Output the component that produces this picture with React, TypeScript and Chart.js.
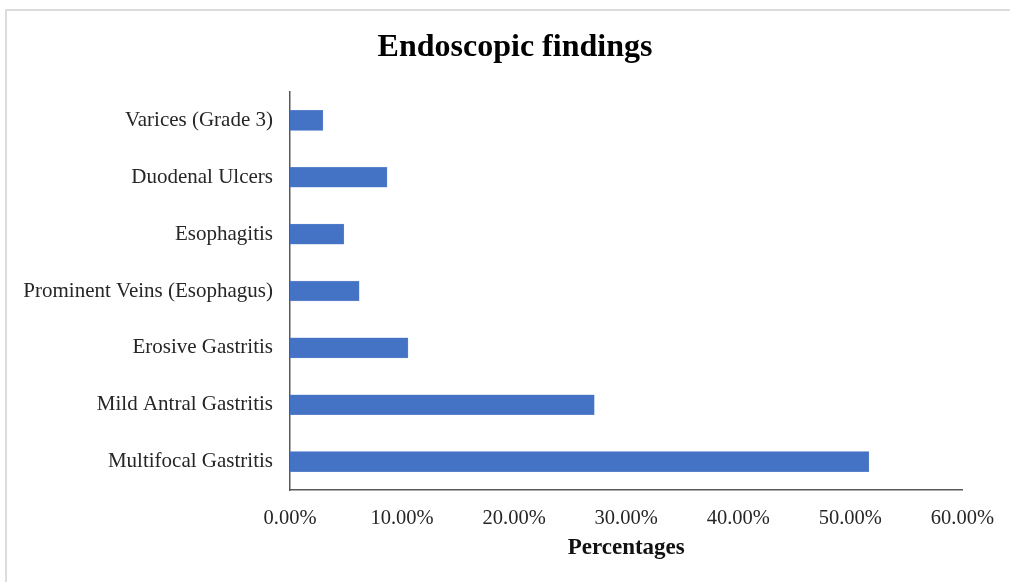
import React, { useEffect, useRef } from "react";
import { Chart, registerables } from "chart.js";

Chart.register(...registerables);

const chartTitle = "Endoscopic findings";
const xAxisTitle = "Percentages";
const categories = [
  "Varices (Grade 3)",
  "Duodenal Ulcers",
  "Esophagitis",
  "Prominent Veins (Esophagus)",
  "Erosive Gastritis",
  "Mild Antral Gastritis",
  "Multifocal Gastritis",
];
const percentages = [2.94, 8.66, 4.81, 6.17, 10.53, 27.15, 51.66];
const xMin = 0;
const xMax = 60;
const xStep = 10;

const FONT = '"Liberation Serif", "Times New Roman", serif';

const titlePlugin = {
  id: "customTitle",
  afterDraw(chart: any) {
    const ctx = chart.ctx;
    ctx.save();
    ctx.font = `bold 32px ${FONT}`;
    ctx.fillStyle = "#000000";
    ctx.textAlign = "center";
    ctx.textBaseline = "alphabetic";
    ctx.fillText(chartTitle, 515, 56);
    ctx.restore();
  },
};

export default function App() {
  const canvasRef = useRef<HTMLCanvasElement | null>(null);

  useEffect(() => {
    if (!canvasRef.current) return;
    const chart = new Chart(canvasRef.current, {
      type: "bar",
      data: {
        labels: categories,
        datasets: [
          {
            label: xAxisTitle,
            data: percentages,
            backgroundColor: "#4472C4",
            borderColor: "#6f93d3",
            borderWidth: 0.5,
            barThickness: 20,
          },
        ],
      },
      plugins: [titlePlugin],
      options: {
        indexAxis: "y",
        responsive: false,
        animation: false,
        devicePixelRatio: 1,
        layout: { padding: { top: 92, left: 10, right: 46, bottom: 0 } },
        plugins: {
          legend: { display: false },
          title: { display: false },
          tooltip: { enabled: false },
        },
        scales: {
          x: {
            min: xMin,
            max: xMax,
            grid: { display: false, drawTicks: false },
            border: { display: true, color: "#595959", width: 1.5 },
            ticks: {
              stepSize: xStep,
              padding: 16,
              color: "#262626",
              font: { family: FONT, size: 20.5 },
              callback: (v: any) => `${Number(v).toFixed(2)}%`,
            },
            title: {
              display: true,
              text: xAxisTitle,
              color: "#111111",
              font: { family: FONT, size: 23, weight: "bold" },
              padding: { top: 0, bottom: 20 },
            },
            afterFit: (scale: any) => {
              scale.height = 92;
            },
          },
          y: {
            grid: { display: false, drawTicks: false },
            border: { display: true, color: "#595959", width: 1.5 },
            ticks: {
              padding: 17,
              color: "#262626",
              font: { family: FONT, size: 21 },
            },
            afterFit: (scale: any) => {
              scale.width = 280;
            },
          },
        },
      },
    } as any);
    return () => chart.destroy();
  }, []);

  return (
    <div style={{ position: "absolute", left: 0, top: 0, width: 1010, height: 582, background: "#ffffff" }}>
      <div
        style={{
          position: "absolute",
          left: 5,
          top: 9,
          right: 0,
          bottom: 0,
          borderLeft: "2px solid #dcdcdc",
          borderTop: "2px solid #dcdcdc",
        }}
      />
      <canvas ref={canvasRef} width={1010} height={582} style={{ position: "absolute", left: 0, top: 0 }} />
    </div>
  );
}
